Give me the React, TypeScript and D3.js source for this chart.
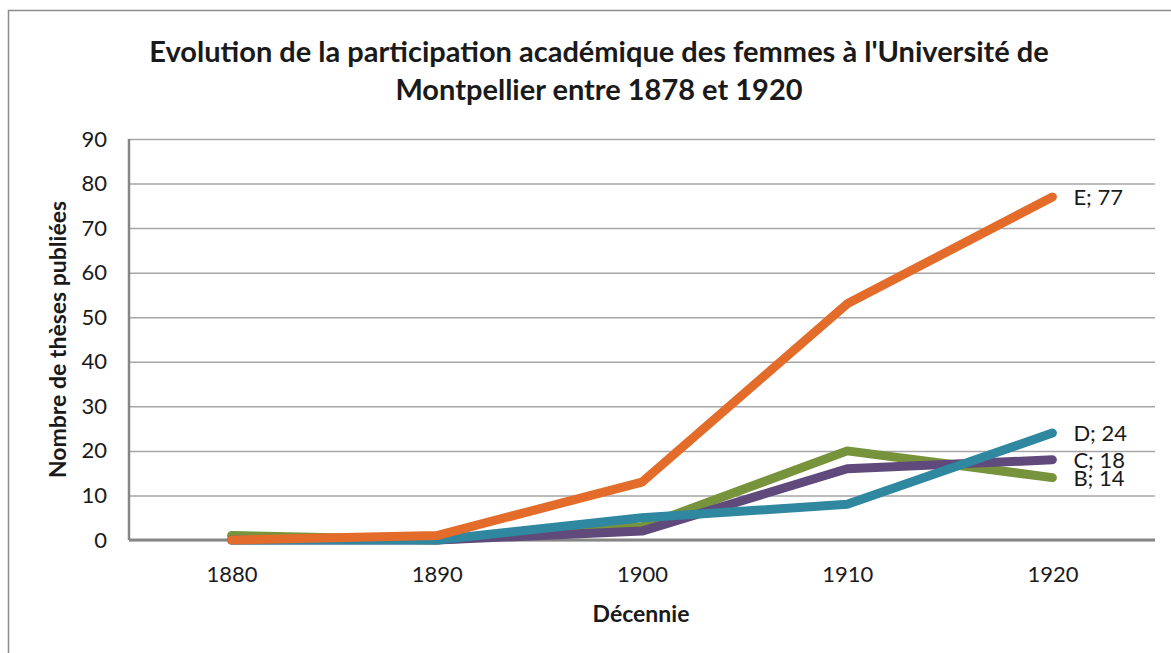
import { useEffect, useRef } from 'react'
import * as d3 from 'd3'

// Décennies (catégories de l'axe X)
const DECADES = ['1880', '1890', '1900', '1910', '1920']
// Séries : nombre de thèses publiées par décennie
const SERIES_B = [1, 0, 3, 20, 14]
const SERIES_C = [0, 0, 2, 16, 18]
const SERIES_D = [0, 0, 5, 8, 24]
const SERIES_E = [0, 1, 13, 53, 77]
const SERIES_NAMES = ['B', 'C', 'D', 'E']
const Y_TICKS = [0, 10, 20, 30, 40, 50, 60, 70, 80, 90]

const COLORS: Record<string, string> = {
  B: '#77933c',
  C: '#604a7b',
  D: '#2f87a0',
  E: '#e46c2a',
}

const W = 1171
const H = 653
const PLOT = { left: 129, right: 1155, top: 139, bottom: 540 }
const FONT = 'Lato, "Open Sans", "Noto Sans", sans-serif'

export default function App() {
  const svgRef = useRef<SVGSVGElement | null>(null)

  useEffect(() => {
    if (!svgRef.current) return
    const svg = d3.select(svgRef.current)
    svg.selectAll('*').remove()

    const x = d3.scalePoint<string>().domain(DECADES).range([PLOT.left, PLOT.right]).padding(0.5)
    const y = d3.scaleLinear().domain([0, 90]).range([PLOT.bottom, PLOT.top])

    // ── Cadre extérieur ──────────────────────────────────────────────────────
    svg.append('rect')
      .attr('x', 8.5).attr('y', 10.5).attr('width', W + 20).attr('height', H + 20)
      .attr('fill', 'white').attr('stroke', '#8c8c8c').attr('stroke-width', 1.5)

    // ── Titre ────────────────────────────────────────────────────────────────
    const title = svg.append('text')
      .attr('text-anchor', 'middle').attr('font-family', FONT)
      .attr('font-weight', 700).attr('font-size', 29).attr('fill', '#1a1a1a')
    title.append('tspan').attr('x', 599).attr('y', 62)
      .text("Evolution de la participation académique des femmes à l'Université de")
    title.append('tspan').attr('x', 599).attr('y', 100)
      .text('Montpellier entre 1878 et 1920')

    // ── Grille + axe Y ───────────────────────────────────────────────────────
    svg.append('g')
      .attr('transform', `translate(${PLOT.left},0)`)
      .call(d3.axisLeft(y).tickValues(Y_TICKS).tickSize(-(PLOT.right - PLOT.left)).tickPadding(22))
      .call((a) => a.select('.domain').remove())
      .call((a) => a.selectAll('line').attr('stroke', '#a6a6a6').attr('stroke-width', 1.5))
      .call((a) => a.selectAll('text')
        .attr('font-family', FONT).attr('font-size', 22).attr('fill', '#1a1a1a'))

    // axes (lignes grises)
    svg.append('line')
      .attr('x1', PLOT.left).attr('x2', PLOT.left).attr('y1', PLOT.top).attr('y2', PLOT.bottom)
      .attr('stroke', '#868686').attr('stroke-width', 2.5)
    svg.append('line')
      .attr('x1', PLOT.left).attr('x2', PLOT.right).attr('y1', PLOT.bottom).attr('y2', PLOT.bottom)
      .attr('stroke', '#868686').attr('stroke-width', 3)

    // ── Axe X ────────────────────────────────────────────────────────────────
    svg.append('g')
      .attr('transform', `translate(0,${PLOT.bottom})`)
      .call(d3.axisBottom(x).tickSize(0).tickPadding(26))
      .call((a) => a.select('.domain').remove())
      .call((a) => a.selectAll('text')
        .attr('font-family', FONT).attr('font-size', 22).attr('fill', '#1a1a1a'))

    // ── Titres des axes ──────────────────────────────────────────────────────
    svg.append('text')
      .attr('x', 641).attr('y', 622).attr('text-anchor', 'middle')
      .attr('font-family', FONT).attr('font-weight', 700).attr('font-size', 23).attr('fill', '#1a1a1a')
      .text('Décennie')
    svg.append('text')
      .attr('transform', `translate(66,${(PLOT.top + PLOT.bottom) / 2}) rotate(-90)`)
      .attr('text-anchor', 'middle')
      .attr('font-family', FONT).attr('font-weight', 700).attr('font-size', 23).attr('fill', '#1a1a1a')
      .text('Nombre de thèses publiées')

    // ── Séries ───────────────────────────────────────────────────────────────
    const seriesValues = [SERIES_B, SERIES_C, SERIES_D, SERIES_E]
    const series = SERIES_NAMES.map((name, i) => ({
      name,
      points: DECADES.map((d, j) => ({ d, v: seriesValues[i][j] })),
    }))

    const line = d3.line<{ d: string; v: number }>()
      .x((p) => x(p.d) as number)
      .y((p) => y(p.v))

    svg.append('g').selectAll('path').data(series).join('path')
      .attr('d', (s) => line(s.points))
      .attr('fill', 'none')
      .attr('stroke', (s) => COLORS[s.name])
      .attr('stroke-width', 9)
      .attr('stroke-linecap', 'round')
      .attr('stroke-linejoin', 'round')

    // Étiquettes de fin de série
    svg.append('g').selectAll('text').data(series).join('text')
      .attr('x', (x(DECADES[DECADES.length - 1]) as number) + 21)
      .attr('y', (s) => y(s.points[s.points.length - 1].v) + 8)
      .attr('font-family', FONT).attr('font-size', 22).attr('fill', '#1a1a1a')
      .text((s) => `${s.name}; ${s.points[s.points.length - 1].v}`)
  }, [])

  return (
    <svg
      ref={svgRef}
      width={W}
      height={H}
      style={{ position: 'absolute', left: 0, top: 0, display: 'block', background: 'white' }}
    />
  )
}
